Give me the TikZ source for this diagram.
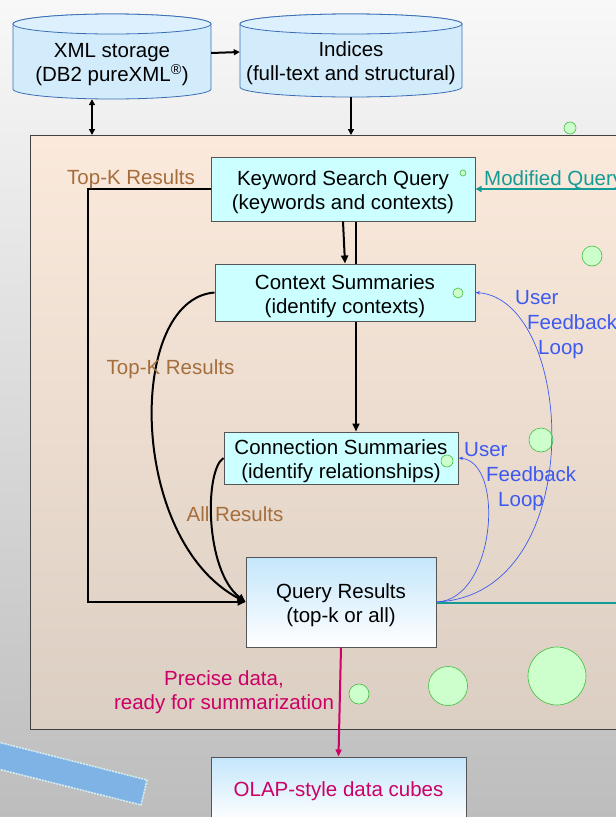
\documentclass[tikz,border=0pt]{standalone}
\usepackage{fontspec}
\setmainfont{Liberation Sans}
\usetikzlibrary{arrows.meta}
\definecolor{bgtop}{HTML}{F8F8F8}
\definecolor{bgbot}{HTML}{BDBDBD}
\definecolor{pantop}{HTML}{FBEADC}
\definecolor{panbot}{HTML}{DBCEC2}
\definecolor{cylfill}{HTML}{D2ECFC}
\definecolor{cyltop}{HTML}{DCF0FD}
\definecolor{cyledge}{HTML}{3A6DB5}
\definecolor{boxfill}{HTML}{CCFFFF}
\definecolor{boxedge}{HTML}{555555}
\definecolor{qtop}{HTML}{C4E6FB}
\definecolor{brownlbl}{HTML}{A56E3C}
\definecolor{tealc}{HTML}{149B96}
\definecolor{bluec}{HTML}{3C5AF0}
\definecolor{magc}{HTML}{CC0066}
\definecolor{gfill}{HTML}{CCFFCC}
\definecolor{gedge}{HTML}{3FBF3F}
\definecolor{barfill}{HTML}{7FB3E6}
\definecolor{baredge}{HTML}{D6EFEF}
% a tall strut on the first line pushes two-line box text slightly down
\newcommand\boxstrut{\rule{0pt}{22pt}}
\begin{document}
\begin{tikzpicture}[x=1pt,y=-1pt,
  txt/.style={font=\fontsize{20.5}{24}\selectfont, inner sep=0pt, align=center},
  cylbody/.style={draw=cyledge, line width=0.8pt, fill=cylfill},
  cyllid/.style={draw=cyledge, line width=0.8pt, fill=cyltop},
  procbox/.style={txt, draw=boxedge, line width=1pt, fill=boxfill},
  resbox/.style={txt, draw=boxedge, line width=1pt, top color=qtop, bottom color=white},
  panelbox/.style={draw=black!75, line width=1.2pt, top color=pantop, bottom color=panbot, inner sep=0pt},
  bubble/.style={circle, draw=gedge, fill=gfill, line width=0.6pt, inner sep=0pt},
  blk/.style={line width=2pt, -{Triangle[length=8pt,width=7pt]}},
  tealarr/.style={draw=tealc, line width=2pt, -{Triangle[length=6pt,width=6pt]}},
  fbarr/.style={draw=bluec, line width=0.7pt, -{Stealth[length=4.5pt,width=3.5pt]}},
  magarr/.style={draw=magc, line width=2pt, -{Triangle[length=7pt,width=6pt]}},
  brownt/.style={txt, text=brownlbl},
  bluet/.style={txt, text=bluec, align=left, font=\fontsize{20.5}{25}\selectfont},
  magt/.style={txt, text=magc}
]
\useasboundingbox (0,0) rectangle (616,817);
% background
\shade[top color=bgtop, bottom color=bgbot] (0,0) rectangle (616,817);

% slanted blue bar at the lower left
\draw[fill=barfill, draw=baredge, line width=1.5pt, dash pattern=on 2pt off 1pt]
  (-10,740) -- (147,780) -- (141,805) -- (-10,767) -- cycle;

% storage cylinders
\draw[cylbody] (13,24) -- (13,89) arc[start angle=180,end angle=360,x radius=99pt,y radius=10pt]
  -- (211,24) arc[start angle=0,end angle=180,x radius=99pt,y radius=10pt] -- cycle;
\draw[cyllid] (112,24) ellipse[x radius=99pt, y radius=10pt];
\draw[cylbody] (240,24) -- (240,87) arc[start angle=180,end angle=360,x radius=111pt,y radius=10pt]
  -- (462,24) arc[start angle=0,end angle=180,x radius=111pt,y radius=10pt] -- cycle;
\draw[cyllid] (351,24) ellipse[x radius=111pt, y radius=10pt];

\node[minimum width=198pt, minimum height=86pt, inner sep=0pt] (xml) at (112,56) {};
\node[txt] (xmlt) at (112,65) {XML storage\\(DB2 pureXML\textsuperscript{®})};
\node[minimum width=222pt, minimum height=84pt, inner sep=0pt] (idx) at (351,55) {};
\node[txt] (idxt) at (351,63) {Indices\\(full-text and structural)};

% processing panel
\node[panelbox, anchor=north west, minimum width=600pt, minimum height=594pt] (panel) at (30,135) {};

% processing steps
\node[procbox, minimum width=264pt, minimum height=64pt] (kw) at (343,189)
  {\boxstrut Keyword Search Query\\(keywords and contexts)};
\node[procbox, minimum width=260pt, minimum height=57pt] (ctx) at (345,292.5)
  {\boxstrut Context Summaries\\(identify contexts)};
\node[procbox, minimum width=234pt, minimum height=52pt] (conn) at (341,458)
  {\boxstrut Connection Summaries\\(identify relationships)};
\node[resbox, minimum width=190pt, minimum height=90pt] (qr) at (341,602)
  {\boxstrut Query Results\\(top-k or all)};
\node[resbox, minimum width=255pt, minimum height=64pt] (olap) at (338.5,789)
  {\rule{0pt}{19pt}\textcolor{magc}{OLAP-style data cubes}};

% green bubbles
\node[bubble, minimum size=12pt] (g1) at (570,128) {};
\node[bubble, minimum size=6pt] (g2) at (463,173) {};
\node[bubble, minimum size=20pt] (g3) at (592,256) {};
\node[bubble, minimum size=10pt] (g4) at (458,293) {};
\node[bubble, minimum size=24pt] (g5) at (541,440) {};
\node[bubble, minimum size=12pt] (g6) at (447,461) {};
\node[bubble, minimum size=20pt] (g7) at (359,694) {};
\node[bubble, minimum size=39pt] (g8) at (448,686) {};
\node[bubble, minimum size=58pt] (g9) at (557,676) {};

% storage connectors
\draw[line width=2pt, -{Triangle[length=6pt,width=6pt]}] ([yshift=3pt]xml.east) -- ([yshift=3pt]idx.west);
\coordinate (dA) at ([xshift=-20pt]xml.south);
\draw[line width=2pt, {Triangle[length=6pt,width=6pt]}-{Triangle[length=6pt,width=6pt]}] (dA) -- (dA |- panel.north);
\draw[line width=2pt, -{Triangle[length=6pt,width=6pt]}] (idx.south) -- (idx.south |- panel.north);

% main flow
\draw[blk] (kw.south) -- (ctx.north);
\coordinate (vA) at ([xshift=13pt]kw.south);
\draw[line width=2pt] (vA) -- (vA |- ctx.north);
\coordinate (vB) at ([xshift=11pt]ctx.south);
\draw[blk] (vB) -- (vB |- conn.north);
\draw[blk] (kw.west) -- ++(-123,0) |- (qr.west);
\draw[blk] (ctx.west) .. controls +(-88,7) and +(-118,-62) .. (qr.west);
\draw[blk] (conn.west) .. controls +(-19,12) and +(-41,-32) .. (qr.west);

% feedback loops
\draw[fbarr] (qr.east) .. controls +(59,-2) and +(47,4) .. (conn.east);
\draw[fbarr] (qr.east) .. controls +(154,-7) and +(100,7) .. (ctx.east);

% modified query
\coordinate (mqin) at (620,189);
\draw[tealarr] (mqin) -- (kw.east);
\coordinate (mqout) at (620,603);
\draw[draw=tealc, line width=2.5pt] ([yshift=-1pt]qr.east) -- ([yshift=-1pt]qr.east -| mqout);

% output
\draw[magarr] (qr.south) -- (olap.north);

% labels
\node[brownt] (lk1) at (131,179) {Top-K Results};
\node[brownt] (lk2) at (170.5,369) {Top-K Results};
\node[brownt] (la) at (235,514) {All Results};
\node[txt, text=tealc, anchor=west] (lmq) at (484,180) {Modified Query};
\node[bluet, anchor=west] (fb1) at (515,325) {User\\\hspace*{12pt}Feedback\\\hspace*{23pt}Loop};
\node[bluet, anchor=west] (fb2) at (464,477) {User\\\hspace*{22pt}Feedback\\\hspace*{34pt}Loop};
\node[magt] (lp) at (224,692) {Precise data,\\ready for summarization};
\end{tikzpicture}
\end{document}
